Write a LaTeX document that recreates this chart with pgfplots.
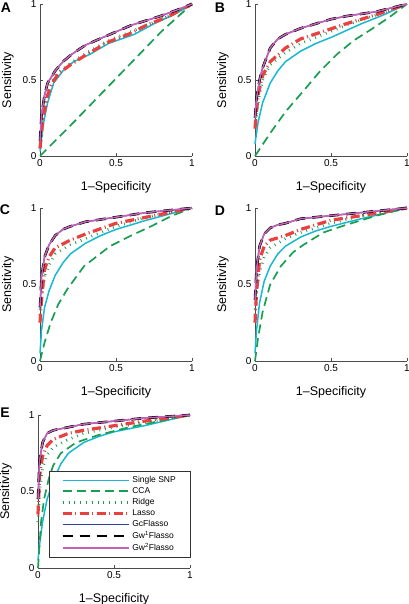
\documentclass[border=0pt]{standalone}
\usepackage{pgfplots}
\pgfplotsset{compat=1.18}
\usepackage{fontspec}
\setmainfont{Liberation Sans}
\definecolor{snpc}{rgb}{0.1,0.72,0.82}
\definecolor{ccac}{rgb}{0.1,0.62,0.32}
\definecolor{lassoc}{rgb}{0.92,0.25,0.25}
\definecolor{gcc}{rgb}{0.2,0.25,0.6}
\definecolor{gw2c}{rgb}{0.78,0.38,0.72}
\pgfplotsset{
 rocax/.style={scale only axis, width=152pt, height=152pt,
   xmin=0, xmax=1, ymin=0, ymax=1,
   axis lines=left, axis line style={-, black!70, line width=0.6pt},
   tick align=inside, major tick length=3pt, tick style={black!70},
   xtick={0,0.5,1}, ytick={0,0.5,1}, xticklabels={0,0.5,1}, yticklabels={0,0.5,1},
   /pgf/number format/assume math mode=true,
   ticklabel style={font=\fontsize{10}{12}\selectfont},
   label style={font=\fontsize{12.5}{14}\selectfont},
   xlabel={1–Specificity}, ylabel={Sensitivity},
   xlabel style={at={(axis description cs:0.5,0)}, anchor=center, yshift=-31pt},
   ylabel style={at={([xshift=-32pt]axis description cs:0,0.5)}, anchor=center},
   clip=false, anchor=south west},
}
\tikzset{
 snp/.style={color=snpc, draw=snpc, line width=1.5pt},
 cca/.style={color=ccac, draw=ccac, line width=1.7pt, dash pattern=on 9pt off 5pt},
 ridge/.style={color=ccac, draw=ccac, line width=2.8pt, dash pattern=on 0.8pt off 5pt},
 lasso/.style={color=lassoc, draw=lassoc, line width=3.2pt, dash pattern=on 9pt off 3.5pt on 1pt off 3.5pt},
 gcf/.style={color=gcc, draw=gcc, line width=1.4pt},
 gw1/.style={color=black, draw=black, line width=2.6pt, dash pattern=on 10pt off 7pt},
 gw2/.style={color=gw2c, draw=gw2c, line width=1.5pt},
 plet/.style={font=\bfseries\fontsize{14}{14}\selectfont},
}
\begin{document}
\begin{tikzpicture}
\useasboundingbox (0pt,0pt) rectangle (408pt,604pt);
% ---------- A ----------
\begin{axis}[rocax, at={(40pt,448pt)}]
\addplot[snp] coordinates {(0,0.03)(0.02,0.2)(0.05,0.35)(0.09,0.48)(0.15,0.56)(0.22,0.62)(0.33,0.67)(0.45,0.74)(0.62,0.8)(0.75,0.87)(0.88,0.93)(1,1)};
\addplot[cca] coordinates {(0,0)(0.2,0.2)(0.5,0.51)(0.8,0.82)(1,1)};
\addplot[ridge] coordinates {(0,0.05)(0.02,0.26)(0.05,0.41)(0.08,0.49)(0.12,0.55)(0.2,0.61)(0.31,0.68)(0.45,0.76)(0.58,0.81)(0.7,0.86)(0.85,0.92)(1,1)};
\addplot[lasso] coordinates {(0,0.05)(0.02,0.25)(0.05,0.4)(0.08,0.48)(0.12,0.54)(0.2,0.6)(0.31,0.67)(0.45,0.75)(0.58,0.8)(0.7,0.86)(0.85,0.92)(1,1)};
\addplot[gcf] coordinates {(0,0.1)(0.01,0.27)(0.03,0.4)(0.05,0.48)(0.1,0.56)(0.15,0.62)(0.21,0.67)(0.3,0.73)(0.46,0.8)(0.6,0.86)(0.79,0.92)(0.9,0.96)(1,1)};
\addplot[gw1] coordinates {(0,0.1)(0.01,0.27)(0.03,0.4)(0.05,0.48)(0.1,0.56)(0.15,0.62)(0.21,0.67)(0.3,0.73)(0.46,0.8)(0.6,0.86)(0.79,0.92)(0.9,0.96)(1,1)};
\addplot[gw2] coordinates {(0,0.1)(0.01,0.27)(0.03,0.4)(0.05,0.48)(0.1,0.56)(0.15,0.62)(0.21,0.67)(0.3,0.73)(0.46,0.8)(0.6,0.86)(0.79,0.92)(0.9,0.96)(1,1)};
\node[plet] at ([xshift=-34pt,yshift=-4pt]rel axis cs:0,1) {A};
\end{axis}
% ---------- B ----------
\begin{axis}[rocax, at={(255pt,448pt)}]
\addplot[snp] coordinates {(0,0.08)(0.02,0.22)(0.05,0.35)(0.1,0.48)(0.15,0.56)(0.2,0.62)(0.3,0.69)(0.4,0.74)(0.5,0.78)(0.7,0.87)(0.85,0.93)(1,1)};
\addplot[cca] coordinates {(0,0)(0.1,0.15)(0.2,0.29)(0.32,0.43)(0.43,0.56)(0.54,0.67)(0.65,0.76)(0.76,0.83)(0.88,0.91)(1,1)};
\addplot[ridge] coordinates {(0,0.2)(0.02,0.35)(0.05,0.5)(0.1,0.6)(0.2,0.68)(0.3,0.74)(0.45,0.8)(0.6,0.86)(0.8,0.93)(1,1)};
\addplot[lasso] coordinates {(0,0.18)(0.02,0.4)(0.05,0.53)(0.1,0.62)(0.2,0.71)(0.3,0.77)(0.45,0.82)(0.6,0.87)(0.8,0.93)(1,1)};
\addplot[gcf] coordinates {(0,0.25)(0.01,0.38)(0.03,0.5)(0.05,0.58)(0.1,0.71)(0.15,0.77)(0.2,0.8)(0.3,0.84)(0.4,0.87)(0.5,0.9)(0.6,0.92)(0.8,0.95)(1,1)};
\addplot[gw1] coordinates {(0,0.25)(0.01,0.38)(0.03,0.5)(0.05,0.58)(0.1,0.71)(0.15,0.77)(0.2,0.8)(0.3,0.84)(0.4,0.87)(0.5,0.9)(0.6,0.92)(0.8,0.95)(1,1)};
\addplot[gw2] coordinates {(0,0.25)(0.01,0.38)(0.03,0.5)(0.05,0.58)(0.1,0.71)(0.15,0.77)(0.2,0.8)(0.3,0.84)(0.4,0.87)(0.5,0.9)(0.6,0.92)(0.8,0.95)(1,1)};
\node[plet] at ([xshift=-35pt,yshift=-4pt]rel axis cs:0,1) {B};
\end{axis}
% ---------- C ----------
\begin{axis}[rocax, at={(40pt,243pt)}, height=153pt]
\addplot[snp] coordinates {(0,0.05)(0.01,0.2)(0.03,0.35)(0.06,0.46)(0.1,0.56)(0.15,0.64)(0.2,0.7)(0.3,0.77)(0.4,0.82)(0.5,0.86)(0.7,0.92)(0.85,0.96)(1,1)};
\addplot[cca] coordinates {(0,0)(0.03,0.12)(0.07,0.25)(0.12,0.37)(0.18,0.47)(0.29,0.62)(0.46,0.75)(0.6,0.82)(0.73,0.88)(0.87,0.95)(1,1)};
\addplot[ridge] coordinates {(0,0.3)(0.01,0.42)(0.03,0.55)(0.06,0.63)(0.1,0.7)(0.2,0.76)(0.3,0.8)(0.5,0.88)(0.7,0.94)(1,1)};
\addplot[lasso] coordinates {(0,0.25)(0.01,0.4)(0.03,0.6)(0.06,0.68)(0.1,0.74)(0.2,0.79)(0.3,0.83)(0.5,0.9)(0.7,0.94)(1,1)};
\addplot[gcf] coordinates {(0,0.35)(0.01,0.55)(0.03,0.68)(0.06,0.76)(0.1,0.82)(0.15,0.86)(0.2,0.88)(0.3,0.91)(0.5,0.94)(0.7,0.97)(1,1)};
\addplot[gw1] coordinates {(0,0.35)(0.01,0.55)(0.03,0.68)(0.06,0.76)(0.1,0.82)(0.15,0.86)(0.2,0.88)(0.3,0.91)(0.5,0.94)(0.7,0.97)(1,1)};
\addplot[gw2] coordinates {(0,0.35)(0.01,0.55)(0.03,0.68)(0.06,0.76)(0.1,0.82)(0.15,0.86)(0.2,0.88)(0.3,0.91)(0.5,0.94)(0.7,0.97)(1,1)};
\node[plet] at ([xshift=-35pt,yshift=-2pt]rel axis cs:0,1) {C};
\end{axis}
% ---------- D ----------
\begin{axis}[rocax, at={(255pt,243pt)}, height=153pt]
\addplot[snp] coordinates {(0,0.05)(0.01,0.2)(0.03,0.38)(0.06,0.52)(0.1,0.62)(0.15,0.7)(0.2,0.75)(0.3,0.81)(0.4,0.85)(0.5,0.88)(0.7,0.93)(1,1)};
\addplot[cca] coordinates {(0,0)(0.02,0.15)(0.05,0.32)(0.1,0.5)(0.17,0.62)(0.25,0.71)(0.32,0.76)(0.45,0.84)(0.6,0.89)(0.8,0.95)(1,1)};
\addplot[ridge] coordinates {(0,0.3)(0.01,0.45)(0.03,0.58)(0.06,0.68)(0.1,0.74)(0.2,0.8)(0.3,0.84)(0.5,0.9)(0.7,0.95)(1,1)};
\addplot[lasso] coordinates {(0,0.25)(0.01,0.45)(0.03,0.66)(0.06,0.75)(0.1,0.79)(0.2,0.82)(0.3,0.86)(0.5,0.92)(0.7,0.95)(1,1)};
\addplot[gcf] coordinates {(0,0.4)(0.01,0.6)(0.03,0.75)(0.06,0.83)(0.1,0.87)(0.15,0.89)(0.2,0.9)(0.3,0.93)(0.5,0.95)(0.7,0.97)(1,1)};
\addplot[gw1] coordinates {(0,0.4)(0.01,0.6)(0.03,0.75)(0.06,0.83)(0.1,0.87)(0.15,0.89)(0.2,0.9)(0.3,0.93)(0.5,0.95)(0.7,0.97)(1,1)};
\addplot[gw2] coordinates {(0,0.4)(0.01,0.6)(0.03,0.75)(0.06,0.83)(0.1,0.87)(0.15,0.89)(0.2,0.9)(0.3,0.93)(0.5,0.95)(0.7,0.97)(1,1)};
\node[plet] at ([xshift=-35pt,yshift=-3pt]rel axis cs:0,1) {D};
\end{axis}
% ---------- E ----------
\begin{axis}[rocax, at={(38pt,36pt)}, height=153pt,
  legend style={at={(1,0.07)}, anchor=south east, draw=black!80, fill=white,
    font=\fontsize{8.5}{10}\selectfont, inner xsep=12pt, inner ysep=3pt, row sep=-0.5pt},
  legend cell align=left,
  legend image code/.code={\draw[#1] (0pt,0pt) -- (40pt,0pt); \path (0pt,0pt) -- (66pt,0pt);}]
\addplot[snp] coordinates {(0,0.05)(0.01,0.15)(0.03,0.3)(0.06,0.45)(0.1,0.57)(0.15,0.68)(0.2,0.75)(0.3,0.82)(0.4,0.86)(0.5,0.89)(0.7,0.93)(1,1)};
\addlegendentry{Single SNP}
\addplot[cca] coordinates {(0,0)(0.01,0.15)(0.02,0.3)(0.04,0.45)(0.07,0.58)(0.1,0.67)(0.15,0.75)(0.25,0.82)(0.4,0.87)(0.6,0.92)(0.8,0.96)(1,1)};
\addlegendentry{CCA}
\addplot[ridge] coordinates {(0,0.3)(0.01,0.5)(0.03,0.65)(0.06,0.74)(0.1,0.79)(0.2,0.84)(0.3,0.88)(0.5,0.92)(0.7,0.95)(1,1)};
\addlegendentry{Ridge}
\addplot[lasso] coordinates {(0,0.35)(0.01,0.6)(0.03,0.73)(0.06,0.8)(0.1,0.84)(0.2,0.88)(0.3,0.9)(0.5,0.93)(0.7,0.96)(1,1)};
\addlegendentry{Lasso}
\addplot[gcf] coordinates {(0,0.45)(0.01,0.7)(0.03,0.82)(0.06,0.88)(0.1,0.9)(0.2,0.92)(0.3,0.94)(0.5,0.96)(0.7,0.98)(1,1)};
\addlegendentry{GcFlasso}
\addplot[gw1] coordinates {(0,0.45)(0.01,0.7)(0.03,0.82)(0.06,0.88)(0.1,0.9)(0.2,0.92)(0.3,0.94)(0.5,0.96)(0.7,0.98)(1,1)};
\addlegendentry{Gw\textsuperscript{1}Flasso}
\addplot[gw2] coordinates {(0,0.45)(0.01,0.7)(0.03,0.82)(0.06,0.88)(0.1,0.9)(0.2,0.92)(0.3,0.94)(0.5,0.96)(0.7,0.98)(1,1)};
\addlegendentry{Gw\textsuperscript{2}Flasso}
\node[plet] at ([xshift=-33pt,yshift=2pt]rel axis cs:0,1) {E};
\end{axis}
\end{tikzpicture}
\end{document}
